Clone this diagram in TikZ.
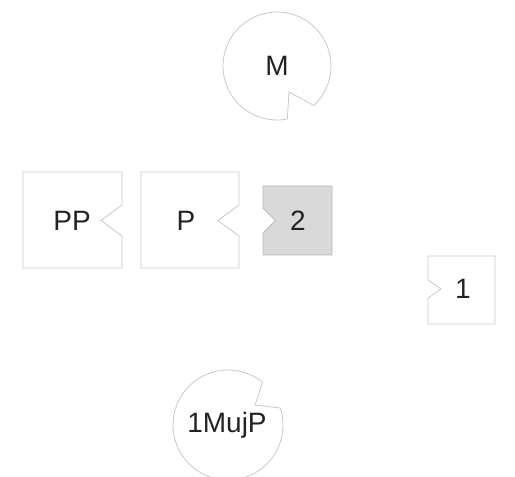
\documentclass[tikz,border=0pt]{standalone}
\usepackage{fontspec}
\setmainfont{Liberation Sans}
\definecolor{edgegray}{HTML}{C8C8C8}
\definecolor{fillgray}{HTML}{D9D9D9}
\definecolor{txt}{HTML}{222222}
\tikzset{
  shapeline/.style={draw=edgegray, line width=0.8bp, line join=miter},
  label/.style={text=txt, font=\fontsize{28bp}{30bp}\selectfont, inner sep=0pt},
}
\begin{document}
\begin{tikzpicture}[x=1bp,y=1bp]
\useasboundingbox (0,0) rectangle (515,477);
% M circle with notch
\draw[shapeline] (277,411) ++(-47:54) arc[start angle=-47, end angle=281, radius=54] -- (289,385) -- cycle;
\node[label] (M) at (277,411) {M};
% PP box
\draw[shapeline] (23,305) -- (122,305) -- (122,272) -- (101,256.5) -- (122,241) -- (122,209) -- (23,209) -- cycle;
\node[label] (PP) at (72,256) {PP};
% P box
\draw[shapeline] (141,305) -- (239,305) -- (239,272) -- (218,256.5) -- (239,241) -- (239,209) -- (141,209) -- cycle;
\node[label] (P) at (186,256) {P};
% 2 box
\draw[shapeline, fill=fillgray, draw=gray!55] (263,291) -- (332,291) -- (332,222) -- (263,222) -- (263,244) -- (275.5,256.5) -- (263,269) -- cycle;
\node[label] (two) at (298,256) {2};
% 1 box
\draw[shapeline] (428,221) -- (495,221) -- (495,153) -- (428,153) -- (428,179) -- (441,188) -- (428,197) -- cycle;
\node[label] (one) at (463,188) {1};
% 1MujP circle with notch
\draw[shapeline] (228,52) ++(51:55) arc[start angle=51, end angle=378, radius=55] -- (255,72) -- cycle;
\node[label] (MujP) at (227,52) {1MujP};
\end{tikzpicture}
\end{document}
